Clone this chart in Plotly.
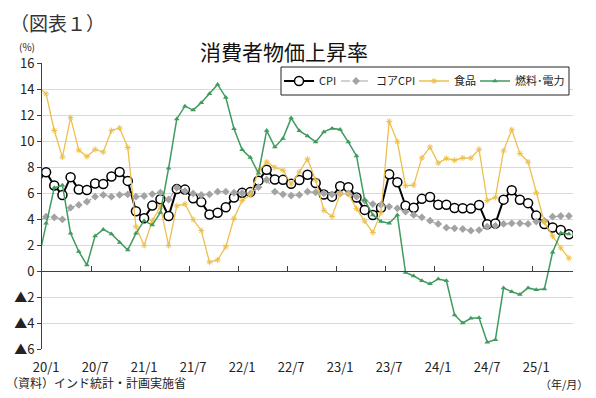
import plotly.graph_objects as go

# ---- data (monthly, 2019/12 .. 2025/5; 2019/12 only gives the clipped segment at the left edge)
months = ["19/12"] + [f"{y}/{m}" for y in range(20, 26) for m in range(1, 13)][:65]

cpi = [7.35,
       7.59, 6.58, 5.84, 7.22, 6.27, 6.23, 6.73, 6.69, 7.27, 7.61, 6.93, 4.59,
       4.06, 5.03, 5.52, 4.23, 6.30, 6.26, 5.59, 5.30, 4.35, 4.48, 4.91, 5.66,
       6.01, 6.07, 6.95, 7.79, 7.04, 7.01, 6.71, 7.00, 7.41, 6.77, 5.88, 5.72,
       6.52, 6.44, 5.66, 4.70, 4.31, 4.87, 7.44, 6.83, 5.02, 4.87, 5.55, 5.69,
       5.10, 5.09, 4.85, 4.83, 4.80, 5.08, 3.60, 3.65, 5.49, 6.21, 5.48, 5.22,
       4.26, 3.61, 3.34, 3.16, 2.82]

core_cpi = [3.80,
            4.18, 4.13, 3.97, 4.87, 5.08, 5.33, 5.72, 5.85, 5.72, 5.85, 5.90, 5.72,
            5.77, 5.92, 6.03, 5.50, 6.40, 6.15, 5.97, 5.85, 5.90, 6.10, 6.10, 6.02,
            6.00, 5.95, 6.45, 7.02, 6.10, 5.90, 5.80, 5.85, 6.10, 6.05, 5.97, 5.90,
            5.97, 5.97, 5.72, 5.41, 5.15, 5.08, 4.95, 4.82, 4.56, 4.31, 4.13, 3.87,
            3.62, 3.33, 3.28, 3.23, 3.10, 3.15, 3.41, 3.49, 3.62, 3.67, 3.67, 3.62,
            3.80, 3.85, 4.18, 4.23, 4.23]

food = [14.19,
        13.63, 10.81, 8.76, 11.80, 9.30, 8.80, 9.35, 9.15, 10.80, 11.00, 9.50, 3.41,
        1.96, 3.87, 4.94, 1.96, 5.01, 5.15, 3.96, 3.11, 0.68, 0.85, 1.87, 4.05,
        5.43, 5.85, 7.68, 8.38, 7.97, 7.75, 6.69, 7.62, 8.60, 7.01, 4.67, 4.19,
        5.94, 5.95, 4.79, 3.84, 2.96, 4.49, 11.51, 9.94, 6.56, 6.61, 8.70, 9.53,
        8.30, 8.66, 8.52, 8.70, 8.69, 9.36, 5.42, 5.66, 9.24, 10.87, 9.04, 8.39,
        6.02, 3.75, 2.69, 1.78, 0.99]

fuel = [0.70,
        3.67, 6.40, 6.60, 2.90, 1.50, 0.46, 2.70, 3.20, 2.85, 2.20, 1.62, 2.90,
        3.87, 3.53, 4.50, 7.91, 11.70, 12.68, 12.38, 12.95, 13.63, 14.35, 13.35, 10.95,
        9.32, 8.73, 7.52, 10.80, 9.54, 10.20, 11.76, 10.78, 10.39, 9.93, 10.70, 10.97,
        10.88, 9.92, 8.85, 5.46, 4.30, 3.80, 3.67, 4.31, -0.12, -0.38, -0.75, -0.99,
        -0.61, -0.75, -3.38, -4.00, -3.64, -3.60, -5.48, -5.28, -1.30, -1.60, -1.80, -1.30,
        -1.44, -1.38, 1.44, 2.93, 2.85]

x_idx = list(range(-1, len(months) - 1))          # 19/12 -> -1, 20/1 -> 0 ...
label_pos = list(range(0, 61, 6))
label_text = [months[i + 1] for i in label_pos]
boundary_ticks = [p - 0.5 for p in label_pos]

y_ticks = list(range(-6, 17, 2))
y_text = [("▲" + str(-v)) if v < 0 else str(v) for v in y_ticks]

FONT = "Noto Sans CJK JP, sans-serif"

# plot-area geometry in pixels (used to convert pixel positions to paper fractions)
W, H = 596, 398
ML, MR, MT, MB = 42, 23, 63, 49
PW, PH = W - ML - MR, H - MT - MB
px = lambda x: (x - ML) / PW
py = lambda y: 1 - (y - MT) / PH

fig = go.Figure()
fig.add_trace(go.Scatter(
    x=x_idx, y=cpi, name="CPI", mode="lines+markers", text=months, legend="legend",
    line=dict(color="black", width=2),
    marker=dict(symbol="circle", size=9, color="white", line=dict(color="black", width=1.5))))
fig.add_trace(go.Scatter(
    x=x_idx, y=core_cpi, name="コアCPI", mode="lines+markers", text=months, legend="legend2",
    line=dict(color="#A3A3A3", width=1.2, dash="dash"),
    marker=dict(symbol="diamond", size=6, color="#A3A3A3")))
fig.add_trace(go.Scatter(
    x=x_idx, y=food, name="食品", mode="lines+markers", text=months, legend="legend3",
    line=dict(color="#EDC04E", width=1.3),
    marker=dict(symbol="asterisk-open", size=5, color="#EDC04E", line=dict(color="#EDC04E", width=1))))
fig.add_trace(go.Scatter(
    x=x_idx, y=fuel, name="燃料･電力", mode="lines+markers", text=months, legend="legend4",
    line=dict(color="#3F9B5E", width=1.5),
    marker=dict(symbol="triangle-up", size=5, color="#3F9B5E")))
# carrier for the zero-line axis with the tick marks
fig.add_trace(go.Scatter(x=[0], y=[0], xaxis="x2", mode="lines", showlegend=False,
                         hoverinfo="skip", line=dict(color="rgba(0,0,0,0)")))

ymin, ymax = -6, 16


def leg(x_left):
    return dict(orientation="h", x=px(x_left), y=py(81), xanchor="left", yanchor="middle",
                bgcolor="rgba(0,0,0,0)", borderwidth=0, font=dict(size=11, family=FONT, color="#222222"),
                itemwidth=30)


fig.update_layout(
    width=W, height=H,
    margin=dict(l=ML, r=MR, t=MT, b=MB, autoexpand=False),
    paper_bgcolor="white", plot_bgcolor="white",
    font=dict(family=FONT, size=12, color="#222222"),
    xaxis=dict(range=[-0.5, 64.5], tickmode="array", tickvals=label_pos, ticktext=label_text,
               showgrid=False, zeroline=False, showline=False, automargin=False,
               ticks="outside", ticklen=6, tickcolor="rgba(0,0,0,0)",
               tickfont=dict(size=13, family=FONT)),
    xaxis2=dict(overlaying="x", anchor="free", position=(0 - ymin) / (ymax - ymin), side="bottom",
                range=[-0.5, 64.5], tickmode="array", tickvals=boundary_ticks,
                showticklabels=False, showgrid=False, zeroline=False, automargin=False,
                showline=True, linecolor="#404040", linewidth=1,
                ticks="inside", ticklen=5, tickcolor="#404040"),
    yaxis=dict(range=[ymin, ymax], tickmode="array", tickvals=y_ticks, ticktext=y_text,
               showgrid=True, gridcolor="#D9D9D9", gridwidth=1, zeroline=False,
               showline=True, linecolor="#404040", linewidth=1, automargin=False,
               ticks="outside", ticklen=4, tickcolor="#404040",
               tickfont=dict(size=13, family=FONT)),
    legend=leg(279), legend2=leg(336), legend3=leg(414), legend4=leg(475),
    hovermode="closest",
)

# legend frame
fig.add_shape(type="rect", xref="paper", yref="paper", x0=px(281), x1=px(569), y0=py(95), y1=py(67),
              line=dict(color="#222222", width=1), fillcolor="white", layer="above")

annots = [
    dict(text="（図表１）", x=px(8), y=py(22), xanchor="left", yanchor="middle",
         font=dict(size=19, family=FONT, color="#333333")),
    dict(text="消費者物価上昇率", x=px(284), y=py(51), xanchor="center",
         yanchor="middle", font=dict(size=21, family=FONT, color="#111111")),
    dict(text="(%)", x=px(17), y=py(47), xanchor="left", yanchor="middle",
         font=dict(size=10, family=FONT, color="#222222")),
    dict(text="（資料）インド統計・計画実施省", x=px(4), y=py(382),
         xanchor="left", yanchor="middle", font=dict(size=12, family=FONT, color="#222222")),
    dict(text="（年/月）", x=px(590), y=py(384),
         xanchor="right", yanchor="middle", font=dict(size=11, family=FONT, color="#222222")),
]
for a in annots:
    fig.add_annotation(xref="paper", yref="paper", showarrow=False, **a)

fig.write_html("out.html", config={"displayModeBar": False},
               post_script="document.body.style.margin='0';document.body.style.padding='0';")
